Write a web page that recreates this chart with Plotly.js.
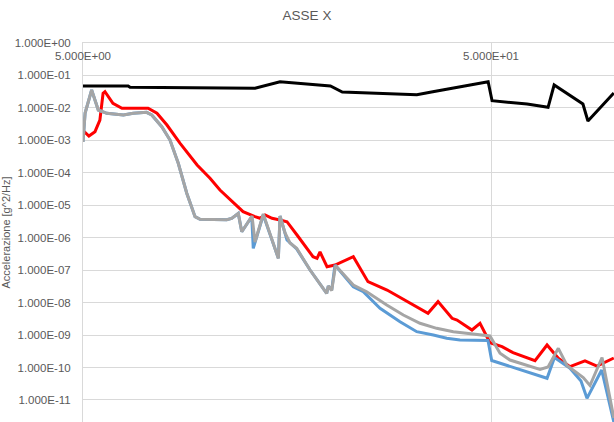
<!DOCTYPE html>
<html>
<head>
<meta charset="utf-8">
<script src="https://cdn.plot.ly/plotly-3.0.1.min.js"></script>
<style>html,body{margin:0;padding:0;background:#fff;}#chart{width:614px;height:422px;}</style>
</head>
<body>
<div id="chart"></div>
<script>
// Frequency [Hz] and PSD [g^2/Hz] values
var blackFreq = [5.00, 6.45, 6.52, 13.2, 15.2, 16.1, 20.2, 21.6, 26.7, 32.9, 36.0, 42.0, 49.2, 50.3, 61.3, 69.0, 71.4, 84.0, 86.4, 100];
var blackVal  = [0.0473, 0.0473, 0.0431, 0.0402, 0.0642, 0.0598, 0.0473, 0.0309, 0.0282, 0.0255, 0.0316, 0.0450, 0.0642, 0.01667, 0.01319, 0.01043, 0.0508, 0.01319, 0.00395, 0.0288];

var redFreq = [5.01, 5.17, 5.35, 5.50, 5.60, 5.66, 5.92, 6.23, 7.22, 7.59, 8.03, 8.65, 9.52, 10.24, 10.83, 12.34, 13.20, 13.58, 13.97, 14.53, 15.20, 15.81, 16.73, 18.31, 18.73, 19.05, 19.82, 20.73, 22.99, 24.97, 27.81, 35.04, 37.08, 40.13, 41.28, 44.91, 46.99, 49.71, 53.21, 56.61, 64.10, 68.60, 73.11, 78.09, 84.98, 90.94, 100];
var redVal  = [0.00198, 0.00136, 0.00185, 0.00424, 0.0282, 0.0316, 0.01386, 0.00972, 0.00972, 0.00682, 0.00297, 8.11e-4, 1.74e-4, 6.77e-5, 2.95e-5, 6.33e-6, 4.44e-6, 3.96e-6, 5.01e-6, 3.96e-6, 3.51e-6, 3.11e-6, 1.21e-6, 2.60e-7, 2.32e-7, 3.62e-7, 1.28e-7, 1.44e-7, 2.60e-7, 4.41e-8, 2.44e-8, 4.68e-9, 1.07e-8, 3.28e-9, 2.91e-9, 1.43e-9, 2.30e-9, 5.81e-10, 4.38e-10, 2.86e-10, 1.62e-10, 4.94e-10, 1.92e-10, 1.06e-10, 1.59e-10, 1.11e-10, 1.96e-10];

var blueFreq = [5.00, 5.06, 5.25, 5.45, 5.72, 6.28, 6.64, 7.16, 7.37, 7.80, 8.17, 8.56, 8.98, 9.41, 9.68, 11.25, 11.57, 12.01, 12.25, 12.96, 13.07, 13.83, 15.06, 15.20, 15.81, 16.70, 18.01, 19.78, 19.96, 20.35, 20.73, 22.99, 24.32, 26.73, 29.92, 32.88, 36.11, 38.94, 41.97, 49.16, 50.20, 68.60, 71.55, 78.09, 83.09, 85.95, 93.38, 100];
var blueVal  = [8.89e-4, 6.97e-3, 0.0356, 0.00861, 0.00682, 0.00604, 0.00682, 0.00732, 0.00604, 0.00263, 0.00102, 1.96e-4, 2.34e-5, 4.44e-6, 3.69e-6, 3.59e-6, 3.91e-6, 5.57e-6, 1.53e-6, 4.44e-6, 4.71e-7, 5.01e-6, 2.32e-7, 4.66e-6, 8.49e-7, 4.49e-7, 1.01e-7, 1.93e-8, 3.25e-8, 2.44e-8, 1.44e-7, 3.09e-8, 2.17e-8, 6.67e-9, 2.58e-9, 1.27e-9, 1.00e-9, 7.94e-10, 7.04e-10, 6.79e-10, 1.64e-10, 4.65e-11, 2.03e-10, 9.45e-11, 3.84e-11, 1.12e-11, 8.38e-11, 2.09e-12];

var grayFreq = [5.00, 5.06, 5.25, 5.45, 5.72, 6.28, 6.64, 7.16, 7.37, 7.80, 8.17, 8.56, 8.98, 9.41, 9.68, 11.25, 11.57, 12.01, 12.25, 12.98, 13.20, 13.83, 15.06, 15.20, 15.64, 16.08, 16.70, 18.01, 19.78, 19.96, 20.35, 20.79, 22.99, 24.79, 27.76, 30.48, 33.49, 36.80, 40.42, 44.41, 49.71, 52.61, 55.66, 65.94, 69.0, 73.11, 76.79, 84.16, 87.41, 93.56, 100];
var grayVal  = [8.89e-4, 6.97e-3, 0.0356, 0.00861, 0.00682, 0.00604, 0.00682, 0.00732, 0.00604, 0.00263, 0.00102, 1.96e-4, 2.34e-5, 4.44e-6, 3.69e-6, 3.59e-6, 3.91e-6, 5.57e-6, 1.53e-6, 4.66e-6, 7.37e-7, 5.38e-6, 2.29e-7, 4.66e-6, 1.40e-6, 6.87e-7, 4.71e-7, 1.01e-7, 1.93e-8, 3.25e-8, 2.36e-8, 1.39e-7, 3.49e-8, 2.17e-8, 8.43e-9, 4.15e-9, 2.30e-9, 1.61e-9, 1.27e-9, 1.13e-9, 9.35e-10, 2.74e-10, 1.70e-10, 8.68e-11, 1.04e-10, 3.90e-10, 1.15e-10, 4.92e-11, 2.79e-11, 2.03e-10, 2.78e-12];

var xTickVals = [5, 50];
var xTickText = ['5.000E+00', '5.000E+01'];
var yTickVals = [1e0, 1e-1, 1e-2, 1e-3, 1e-4, 1e-5, 1e-6, 1e-7, 1e-8, 1e-9, 1e-10, 1e-11];
var yTickText = ['1.000E+00', '1.000E-01', '1.000E-02', '1.000E-03', '1.000E-04', '1.000E-05', '1.000E-06', '1.000E-07', '1.000E-08', '1.000E-09', '1.000E-10', '1.000E-11'];

var FONT = '"Liberation Sans Narrow", "Liberation Sans", Arial, sans-serif';
var TXT = '#595959';

function tr(x, y, color, w) {
  return {x: x, y: y, type: 'scatter', mode: 'lines', line: {color: color, width: w}, hoverinfo: 'skip', showlegend: false};
}
var data = [
  tr(blackFreq, blackVal, '#000000', 3),
  tr(redFreq, redVal, '#ff0000', 3),
  tr(blueFreq, blueVal, '#5b9bd5', 3),
  tr(grayFreq, grayVal, '#a5a5a5', 3)
];

var layout = {
  width: 614, height: 422,
  margin: {l: 83, r: 0, t: 43, b: 0, pad: 0},
  paper_bgcolor: '#ffffff', plot_bgcolor: '#ffffff',
  showlegend: false,
  title: {text: 'ASSE X', font: {family: FONT, size: 13.5, color: TXT}, xref: 'container', x: 0.5, xanchor: 'center', yref: 'container', y: 1 - 15/422, yanchor: 'middle'},
  xaxis: {
    type: 'log', range: [Math.log10(5), Math.log10(5) + 531/408],
    side: 'top', ticklabelposition: 'inside', ticklabeloverflow: 'allow',
    tickmode: 'array', tickvals: xTickVals, ticktext: xTickText,
    ticks: '', ticklabelstandoff: 8,
    tickfont: {family: FONT, size: 11.5, color: TXT},
    showgrid: true, gridcolor: '#d9d9d9', gridwidth: 1,
    showline: true, linecolor: '#d9d9d9', linewidth: 1,
    zeroline: false, fixedrange: true, automargin: false
  },
  yaxis: {
    type: 'log', range: [-(422-43)/32.45, 0],
    tickmode: 'array', tickvals: yTickVals, ticktext: yTickText,
    ticks: '', ticklabelstandoff: 9,
    tickfont: {family: FONT, size: 11.5, color: TXT},
    showgrid: true, gridcolor: '#d9d9d9', gridwidth: 1,
    showline: true, linecolor: '#d9d9d9', linewidth: 1,
    zeroline: false, automargin: true, fixedrange: true,
    title: {text: 'Accelerazione [g^2/Hz]', font: {family: FONT, size: 11, color: TXT}, standoff: 8}
  }
};

Plotly.newPlot('chart', data, layout, {staticPlot: true, displayModeBar: false});
</script>
</body>
</html>
